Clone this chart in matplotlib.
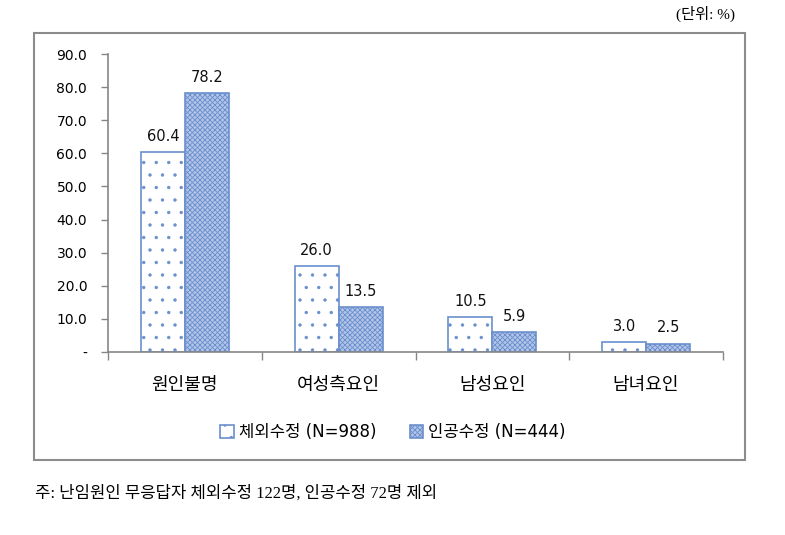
import numpy as np
import matplotlib.pyplot as plt
from matplotlib.patches import Patch, Rectangle

DPI = 150
S = 100 / DPI  # keep sizes as if drawn at 100 dpi

plt.rcParams['font.family'] = ['DejaVu Sans', 'Noto Sans CJK KR']
plt.rcParams['hatch.linewidth'] = 0.6 * S

# data
categories = ["원인불명", "여성측요인", "남성요인", "남녀요인"]
ivf = [60.4, 26.0, 10.5, 3.0]
artificial = [78.2, 13.5, 5.9, 2.5]
series_names = ["체외수정 (N=988)", "인공수정 (N=444)"]
yticks = [0, 10, 20, 30, 40, 50, 60, 70, 80, 90]
ytick_labels = ["-"] + [f"{v:.1f}" for v in yticks[1:]]

fig = plt.figure(figsize=(785 / DPI, 535 / DPI), dpi=DPI)
ax = fig.add_axes([108 / 785, 1 - 352 / 535, 615 / 785, 298 / 535])

# outer chart frame
fig.patches.append(Rectangle((34 / 785, 1 - 460 / 535), 711 / 785, 427 / 535,
                             transform=fig.transFigure, fill=False,
                             edgecolor='#8c8c8c', linewidth=1.5 * S))

x = np.arange(len(categories))
w = 0.286
edge = '#6a8fcc'
face2 = '#b3c5e9'
b1 = ax.bar(x - w / 2, ivf, w, facecolor='white', edgecolor=edge,
            hatch='..', linewidth=1.2 * S)
b2 = ax.bar(x + w / 2, artificial, w, facecolor=face2, edgecolor=edge,
            hatch='xxxxxxxxxx', linewidth=1.2 * S)

for bars, vals in [(b1, ivf), (b2, artificial)]:
    for rect, v in zip(bars, vals):
        ax.annotate(f"{v:.1f}", (rect.get_x() + rect.get_width() / 2, v),
                    xytext=(0, 6 * S), textcoords='offset points',
                    ha='center', va='bottom', fontsize=10.5 * S, color='#111111')

ax.set_xlim(-0.5, len(categories) - 0.5)
ax.set_ylim(0, 90)
ax.set_yticks(yticks)
ax.set_yticklabels(ytick_labels, fontsize=10 * S)
ax.tick_params(axis='y', length=5 * S, width=1 * S, color='#868686', pad=10 * S)

ax.set_xticks(x)
ax.set_xticklabels(categories, fontsize=13 * S)
ax.tick_params(axis='x', which='major', length=0, pad=17 * S)
ax.set_xticks(np.arange(len(categories) + 1) - 0.5, minor=True)
ax.tick_params(axis='x', which='minor', length=6 * S, width=1 * S, color='#868686')

for s in ['top', 'right']:
    ax.spines[s].set_visible(False)
for s in ['left', 'bottom']:
    ax.spines[s].set_color('#868686')
    ax.spines[s].set_linewidth(1.2 * S)

handles = [Patch(facecolor='white', edgecolor=edge, hatch='..', linewidth=1.2 * S),
           Patch(facecolor=face2, edgecolor=edge, hatch='xxxxxxxxxx', linewidth=1.2 * S)]
fig.legend(handles, series_names, loc='center', bbox_to_anchor=(393 / 785, 1 - 432 / 535),
           ncol=2, frameon=False, fontsize=12 * S, handlelength=0.8, handleheight=0.8,
           handletextpad=0.3, columnspacing=2.0)

fig.text(735 / 785, 1 - 14 / 535, "(단위: %)", ha='right', va='center', fontsize=11 * S,
         family=['Liberation Serif', 'Noto Sans CJK KR'])
fig.text(35 / 785, 1 - 493 / 535, "주: 난임원인 무응답자 체외수정 122명, 인공수정 72명 제외",
         ha='left', va='center', fontsize=12 * S,
         family=['Liberation Serif', 'Noto Sans CJK KR'])

fig.savefig("out.png", dpi=DPI)
